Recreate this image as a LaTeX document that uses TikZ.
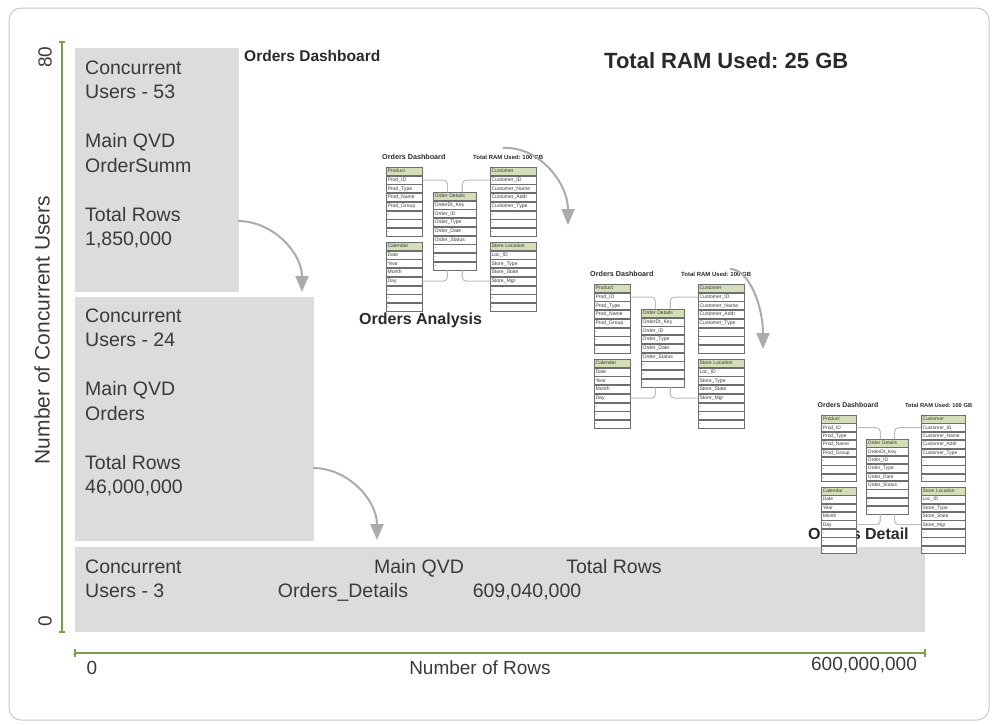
\documentclass[tikz,border=0pt]{standalone}
\usepackage{fontspec}
\setmainfont{Liberation Sans}
\usetikzlibrary{arrows.meta,calc}
\definecolor{boxgray}{HTML}{DCDCDC}
\definecolor{textdark}{HTML}{3A3A3A}
\definecolor{titledark}{HTML}{2A2A2A}
\definecolor{axisgreen}{HTML}{7BA04A}
\definecolor{arrowgray}{HTML}{ABABAB}
\definecolor{framegray}{HTML}{C8C8C8}
\definecolor{hdrgreen}{HTML}{D3DFB8}
\definecolor{tabline}{HTML}{6E6E6E}
\definecolor{conngray}{HTML}{BDBDBD}
\frenchspacing
\tikzset{
  x=1pt, y=-1pt,
  lbl/.style={inner sep=0pt, text=textdark, font=\fontsize{19.5}{24.5}\selectfont, align=left},
  axislbl/.style={inner sep=0pt, text=textdark, font=\fontsize{19}{23}\selectfont},
  gbox/.style={fill=boxgray, draw=none, inner sep=0pt},
  bigarrow/.style={draw=arrowgray, line width=2pt, -{Triangle[length=16pt,width=13pt]}},
  axisline/.style={draw=axisgreen, line width=2pt},
  cell/.style={draw=tabline, line width=0.7pt, fill=white, minimum height=8pt, inner xsep=1.2pt, inner ysep=0pt, text height=3.8pt, text depth=1pt, align=left, font=\fontsize{5.1}{5.4}\selectfont, text=textdark},
  hdr/.style={cell, fill=hdrgreen},
  conn/.style={draw=conngray, line width=1.1pt, rounded corners=4pt},
  smallbold/.style={inner sep=0pt, text=titledark, font=\fontsize{7.2}{8}\selectfont\bfseries},
  tinybold/.style={inner sep=0pt, text=titledark, font=\fontsize{6}{7}\selectfont\bfseries},
  midbold/.style={inner sep=0pt, text=titledark, font=\fontsize{16}{19}\selectfont\bfseries},
}
% table: name, x, y (top left), width, header, rows
\newcommand\mtab[6]{%
  \pgfmathsetmacro\tabtw{#4-2.4}%
  \node[hdr, text width=\tabtw pt, anchor=north west] (#1-0) at (#2,#3) {#5};
  \foreach \r [count=\i from 1] in {#6} {%
    \pgfmathtruncatemacro\j{\i-1}%
    \node[cell, text width=\tabtw pt, anchor=north] (#1-\i) at (#1-\j.south) {\r};
  }%
}
\newcommand\schemablock[4]{%
  \begin{scope}[shift={(#2,#3)}, scale=#4, transform shape]
    \node[smallbold, anchor=base west] (#1-dash) at (12,14) {Orders Dashboard};
    \node[tinybold, anchor=base west] (#1-ram) at (103,14) {Total RAM Used: 100 GB};
    \mtab{#1P}{16}{22}{36}{Product}{Prod\_ID,Prod\_Type,Prod\_Name,Prod\_Group,-,-,-}
    \mtab{#1C}{16}{97}{36}{Calendar}{Date,Year,Month,Day,-,-,-}
    \mtab{#1O}{63}{47}{43}{Order Details}{OrderDt\_Key,Order\_ID,Order\_Type,Order\_Date,Order\_Status,-,-,-}
    \mtab{#1U}{120}{22}{46}{Customer}{Customer\_ID,Customer\_Name,Customer\_Addr,Customer\_Type,-,-,-}
    \mtab{#1S}{120}{97}{46}{Store Location}{Loc\_ID,Store\_Type,Store\_State,Store\_Mgr,-,-,-}
    \draw[conn] (#1P-1.east) -| ($(#1O-0.north west)!0.33!(#1O-0.north east)$);
    \draw[conn] (#1U-1.west) -| ($(#1O-0.north west)!0.67!(#1O-0.north east)$);
    \draw[conn] (#1C-4.east) -| ($(#1O-8.south west)!0.33!(#1O-8.south east)$);
    \draw[conn] (#1S-4.west) -| ($(#1O-8.south west)!0.67!(#1O-8.south east)$);
  \end{scope}%
}
\begin{document}
\begin{tikzpicture}
\useasboundingbox (0,0) rectangle (995,724);
\draw[framegray, line width=1pt, rounded corners=12pt] (9,8) rectangle (989,720);

% gray bars
\node[gbox, anchor=north west, minimum width=164pt, minimum height=244pt] (b1) at (75,48) {};
\node[gbox, anchor=north west, minimum width=239pt, minimum height=244pt] (b2) at (75,297) {};
\node[gbox, anchor=north west, minimum width=850pt, minimum height=85pt] (b3) at (75,547) {};

% axes
\coordinate (ytop) at (62,42);
\coordinate (ybot) at (62,632);
\coordinate (xl) at (75,653);
\coordinate (xr) at (925,653);
\draw[axisline] (ytop) -- (ybot);
\draw[axisline] ($(ytop)+(-3,0)$) -- ($(ytop)+(3,0)$);
\draw[axisline] ($(ybot)+(-3,0)$) -- ($(ybot)+(3,0)$);
\draw[axisline] (xl) -- (xr);
\draw[axisline] ($(xl)+(0,-4)$) -- ($(xl)+(0,4)$);
\draw[axisline] ($(xr)+(0,-4)$) -- ($(xr)+(0,4)$);
\node[axislbl, rotate=90] (y80) at (45,57) {80};
\node[axislbl, rotate=90] (y0) at (45,621) {0};
\node[axislbl, rotate=90, font=\fontsize{21}{24}\selectfont] (ylab) at (42,330) {Number of Concurrent Users};
\node[axislbl] (x0) at (92,668) {0};
\node[axislbl] (xlab) at (480,668) {Number of Rows};
\node[axislbl] (xmax) at (864,665) {600,000,000};

% box texts (base anchor = baseline of last line)
\node[lbl, anchor=base west] (t1) at (85,245.5) {Concurrent\\Users - 53\\[24.5pt]Main QVD\\OrderSumm\\[24.5pt]Total Rows\\1,850,000};
\node[lbl, anchor=base west] (t2) at (85,493.5) {Concurrent\\Users - 24\\[24.5pt]Main QVD\\Orders\\[24.5pt]Total Rows\\46,000,000};
\node[lbl, anchor=base west] (t3) at (85,597.5) {Concurrent\\Users - 3};
\node[lbl, anchor=base] (t4) at (419,573) {Main QVD};
\node[lbl, anchor=base] (t5) at (343,597) {Orders\_Details};
\node[lbl, anchor=base] (t6) at (614,573) {Total Rows};
\node[lbl, anchor=base] (t7) at (527,597) {609,040,000};

% titles
\node[inner sep=0pt, text=titledark, font=\fontsize{15.5}{18}\selectfont\bfseries, anchor=base west] (dash) at (244,61) {Orders Dashboard};
\node[inner sep=0pt, text=titledark, font=\fontsize{22}{26}\selectfont\bfseries, anchor=base west] (ram) at (604,68) {Total RAM Used: 25 GB};

% main arrows
\coordinate (a1s) at (238,221);
\coordinate (a1e) at (302,292);
\coordinate (a2s) at (313,468);
\coordinate (a2e) at (377,540);
\draw[bigarrow] (a1s) .. controls (273,221) and (302,253) .. (a1e);
\draw[bigarrow] (a2s) .. controls (348,468) and (377,500) .. (a2e);

% schemas
\node[midbold, anchor=base west] (oa) at (359,324) {Orders Analysis};
\node[midbold, anchor=base west] (od) at (808,539) {Orders Detail};
\schemablock{s1}{370}{145}{1}
\schemablock{s2}{578}{262}{1}
\schemablock{s3}{806}{394}{0.96}

\coordinate (s1as) at (503,148);
\coordinate (s1ae) at (568,225);
\coordinate (s2as) at (730,269);
\coordinate (s2ae) at (763,349);
\draw[bigarrow] (s1as) .. controls (539,146) and (568,183) .. (s1ae);
\draw[bigarrow] (s2as) .. controls (749,269) and (763,306) .. (s2ae);
\end{tikzpicture}
\end{document}
